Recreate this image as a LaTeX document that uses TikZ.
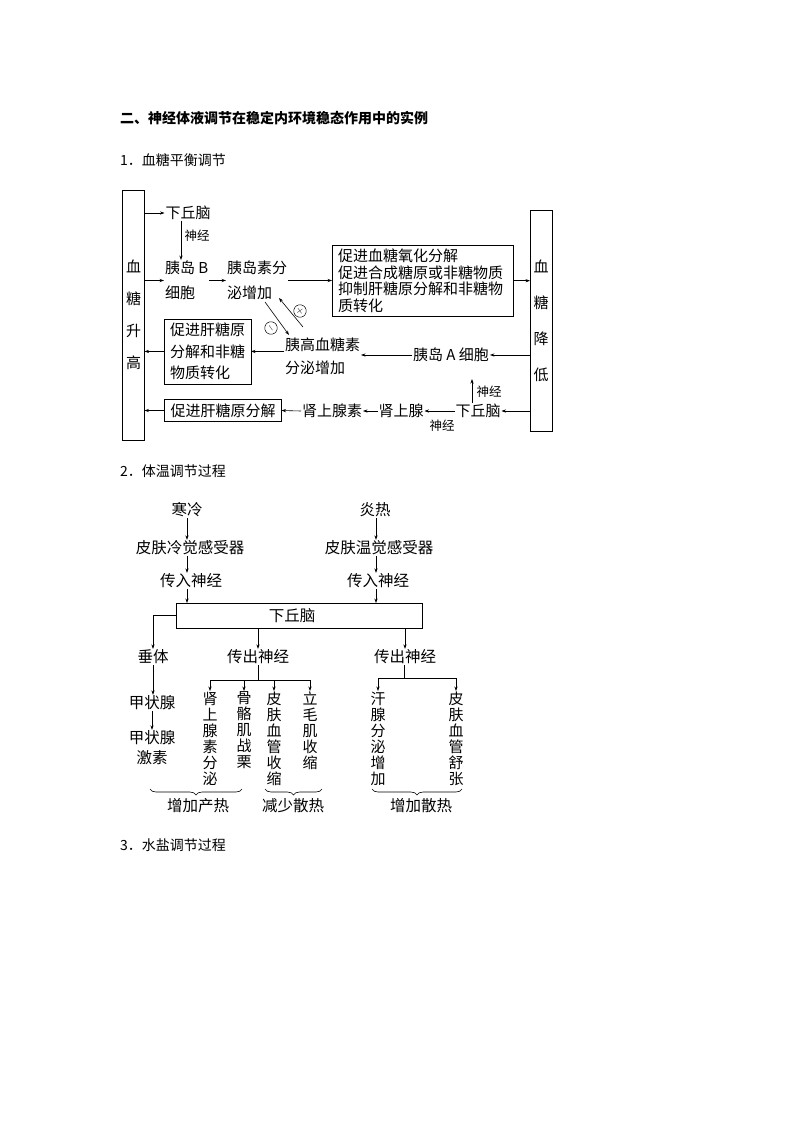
\documentclass[tikz,border=0pt]{standalone}
\usepackage{fontspec}
\setmainfont{Noto Sans CJK SC}
\usetikzlibrary{arrows.meta,decorations.pathreplacing,calc}
\begin{document}
\begin{tikzpicture}[x=1pt,y=-1pt,
 every node/.style={inner sep=0pt, outer sep=0pt},
 txt/.style={font=\fontsize{15}{17}\selectfont, inner sep=1pt},
 t2/.style={font=\fontsize{15.5}{17}\selectfont, inner sep=1pt},
 sm/.style={font=\fontsize{12.5}{13}\selectfont},
 head/.style={font=\fontsize{14}{16}\selectfont, anchor=west},
 bx/.style={draw, line width=0.6pt},
 arr/.style={-{Stealth[length=4.5pt,width=3.2pt]}, line width=0.6pt},
 ln/.style={line width=0.6pt},
 col/.style={font=\fontsize{15}{16}\selectfont, align=center, anchor=north, inner sep=1pt},
 brc/.style={decorate, decoration={brace, mirror, amplitude=6pt}, line width=0.6pt},
 sgn/.style={circle, draw, line width=0.5pt, minimum size=12.5pt, font=\fontsize{10}{10}\selectfont},
]
\fill[white] (0,0) rectangle (794,1122);
\useasboundingbox (0,0) rectangle (794,1122);

% headings
\node[head, font=\fontsize{14}{16}\selectfont\bfseries] (title) at (120,118) {二、神经体液调节在稳定内环境稳态作用中的实例};
\node[head] (h1) at (120,160) {1．血糖平衡调节};
\node[head] (h2) at (120,471) {2．体温调节过程};
\node[head] (h3) at (120,845) {3．水盐调节过程};

% ---------- section 1 ----------
\node[bx, minimum width=22pt, minimum height=250pt, align=center, font=\fontsize{15}{32}\selectfont] (L) at (133.5,315) {血\\糖\\升\\高};
\node[bx, minimum width=22pt, minimum height=221pt, align=center, font=\fontsize{15}{36}\selectfont] (R) at (541,320.5) {血\\糖\\降\\低};

\node[txt] (hq1) at (188,213) {下丘脑};
\node[txt, anchor=west, align=left, font=\fontsize{15}{25}\selectfont] (b) at (164,280.5) {胰岛 B\\细胞};
\node[txt, anchor=west, align=left, font=\fontsize{15}{25}\selectfont] (s) at (226,280.5) {胰岛素分\\泌增加};
\node[bx, anchor=north west, align=left, text width=169pt, inner xsep=6pt, inner ysep=4pt, font=\fontsize{15}{16.5}\selectfont] (e1) at (332,245) {促进血糖氧化分解\\促进合成糖原或非糖物质\\抑制肝糖原分解和非糖物\\质转化};
\node[txt, anchor=west, align=left, font=\fontsize{15}{23}\selectfont] (g) at (284,356.5) {胰高血糖素\\分泌增加};
\node[bx, anchor=north west, align=left, inner xsep=6pt, inner ysep=4pt, font=\fontsize{15}{21.5}\selectfont] (e2) at (164,319) {促进肝糖原\\分解和非糖\\物质转化};
\node[txt] (a) at (451,355) {胰岛 A 细胞};
\node[bx, txt, inner xsep=6pt, inner ysep=4pt] (e3) at (223,410.5) {促进肝糖原分解};
\node[txt] (ep) at (332,411) {肾上腺素};
\node[txt] (ag) at (401,411) {肾上腺};
\node[txt] (hq2) at (478,411) {下丘脑};
\node[sm] (n1) at (197,236) {神经};
\node[sm] (n2) at (442,426) {神经};
\node[sm] (n3) at (489,392) {神经};

\draw[arr] (L.east |- hq1) -- (hq1.west);
\draw[arr] ([xshift=-7pt]hq1.south) -- ([xshift=-7pt]hq1.south |- b.north);
\draw[arr] (L.east |- b) -- (b.west);
\draw[arr] (b.east) -- (b.east -| s.west);
\draw[arr] (s.east) -- (s.east -| e1.west);
\draw[arr] (e1.east) -- (e1.east -| R.west);
\draw[arr] (g.west |- e2.east) -- (e2.east);
\draw[arr] (e2.west) -- (e2.west -| L.east);
\draw[arr] (a.west) -- (a.west -| g.east);
\draw[arr] (a.east -| R.west) -- (a.east);
\draw[arr] (hq2.east -| R.west) -- (hq2.east);
\draw[arr] (hq2.west) -- (ag.east);
\draw[arr] (ag.west) -- (ep.east);
\draw[arr] (ep.west) -- (e3.east);
\draw[arr] (e3.west) -- (e3.west -| L.east);
\draw[arr] ([xshift=-6pt]hq2.north) -- ++(0,-24);

% crossed feedback arrows
\coordinate (x1s) at (265,302);
\coordinate (x1e) at (289,335);
\coordinate (x2s) at (303,327);
\coordinate (x2e) at (279,298);
\draw[arr] (x1s) -- (x1e);
\draw[arr] (x2s) -- (x2e);
\node[sgn, rotate=-55] (mc) at (271,328) {$-$};
\node[sgn, rotate=-55] (pc) at (300,311) {$+$};

% ---------- section 2 ----------
\node[t2] (cold) at (187,510) {寒冷};
\node[t2] (cr) at (190,548) {皮肤冷觉感受器};
\node[t2] (ci) at (191,581) {传入神经};
\node[t2] (hot) at (375,510) {炎热};
\node[t2] (hr) at (379,548) {皮肤温觉感受器};
\node[t2] (hi) at (378,581) {传入神经};
\node[bx, t2, minimum width=246pt, minimum height=25pt] (H) at (299,615.5) {下丘脑\hspace*{14pt}};

\node[t2] (ch) at (153,657) {垂体};
\node[t2] (tz) at (152,703) {甲状腺};
\node[t2, align=center, font=\fontsize{15.5}{20}\selectfont] (tj) at (152,748) {甲状腺\\激素};
\node[t2] (co1) at (258,657) {传出神经};
\node[t2] (co2) at (405,657) {传出神经};

\node[col] (c1) at (210,691) {肾\\上\\腺\\素\\分\\泌};
\node[col] (c2) at (244,691) {骨\\骼\\肌\\战\\栗};
\node[col] (c3) at (274,691) {皮\\肤\\血\\管\\收\\缩};
\node[col] (c4) at (310,691) {立\\毛\\肌\\收\\缩};
\node[col] (c5) at (378,691) {汗\\腺\\分\\泌\\增\\加};
\node[col] (c6) at (456,691) {皮\\肤\\血\\管\\舒\\张};

\draw[arr] (cold.south) -- (cold.south |- cr.north);
\draw[arr] (cold.south |- cr.south) -- (cold.south |- ci.north);
\draw[arr] (cold.south |- ci.south) -- (cold.south |- H.north);
\draw[arr] ([xshift=1pt]hot.south) -- ([xshift=1pt]hot.south |- hr.north);
\draw[arr] ([xshift=1pt]hot.south |- hr.south) -- ([xshift=1pt]hot.south |- hi.north);
\draw[arr] ([xshift=1pt]hot.south |- hi.south) -- ([xshift=1pt]hot.south |- H.north);

\draw[arr] (H.west) -| (ch.north);
\draw[arr] (ch.south) -- (ch.south |- tz.north);
\draw[arr] (tz.south) -- (tz.south |- tj.north);
\draw[arr] (H.south -| co1.north) -- (co1.north);
\draw[arr] (H.south -| co2.north) -- (co2.north);

\coordinate (j1) at (258,680);
\coordinate (j2) at (404,678);
\draw[ln] (co1.south) -- (j1);
\draw[ln] (c1.north |- j1) -- (c4.north |- j1);
\foreach \c in {c1,c2,c3,c4} \draw[arr] (\c.north |- j1) -- (\c.north);
\draw[ln] (co2.south -| j2) -- (j2);
\draw[ln] (c5.north |- j2) -- (c6.north |- j2);
\foreach \c in {c5,c6} \draw[arr] (\c.north |- j2) -- (\c.north);

\draw[brc] (150,789) -- (242,789);
\draw[brc] (265,789) -- (322,789);
\draw[brc] (372,789) -- (462,789);
\node[t2] (bl1) at (198,806) {增加产热};
\node[t2] (bl2) at (293,806) {减少散热};
\node[t2] (bl3) at (421,806) {增加散热};
\end{tikzpicture}
\end{document}
